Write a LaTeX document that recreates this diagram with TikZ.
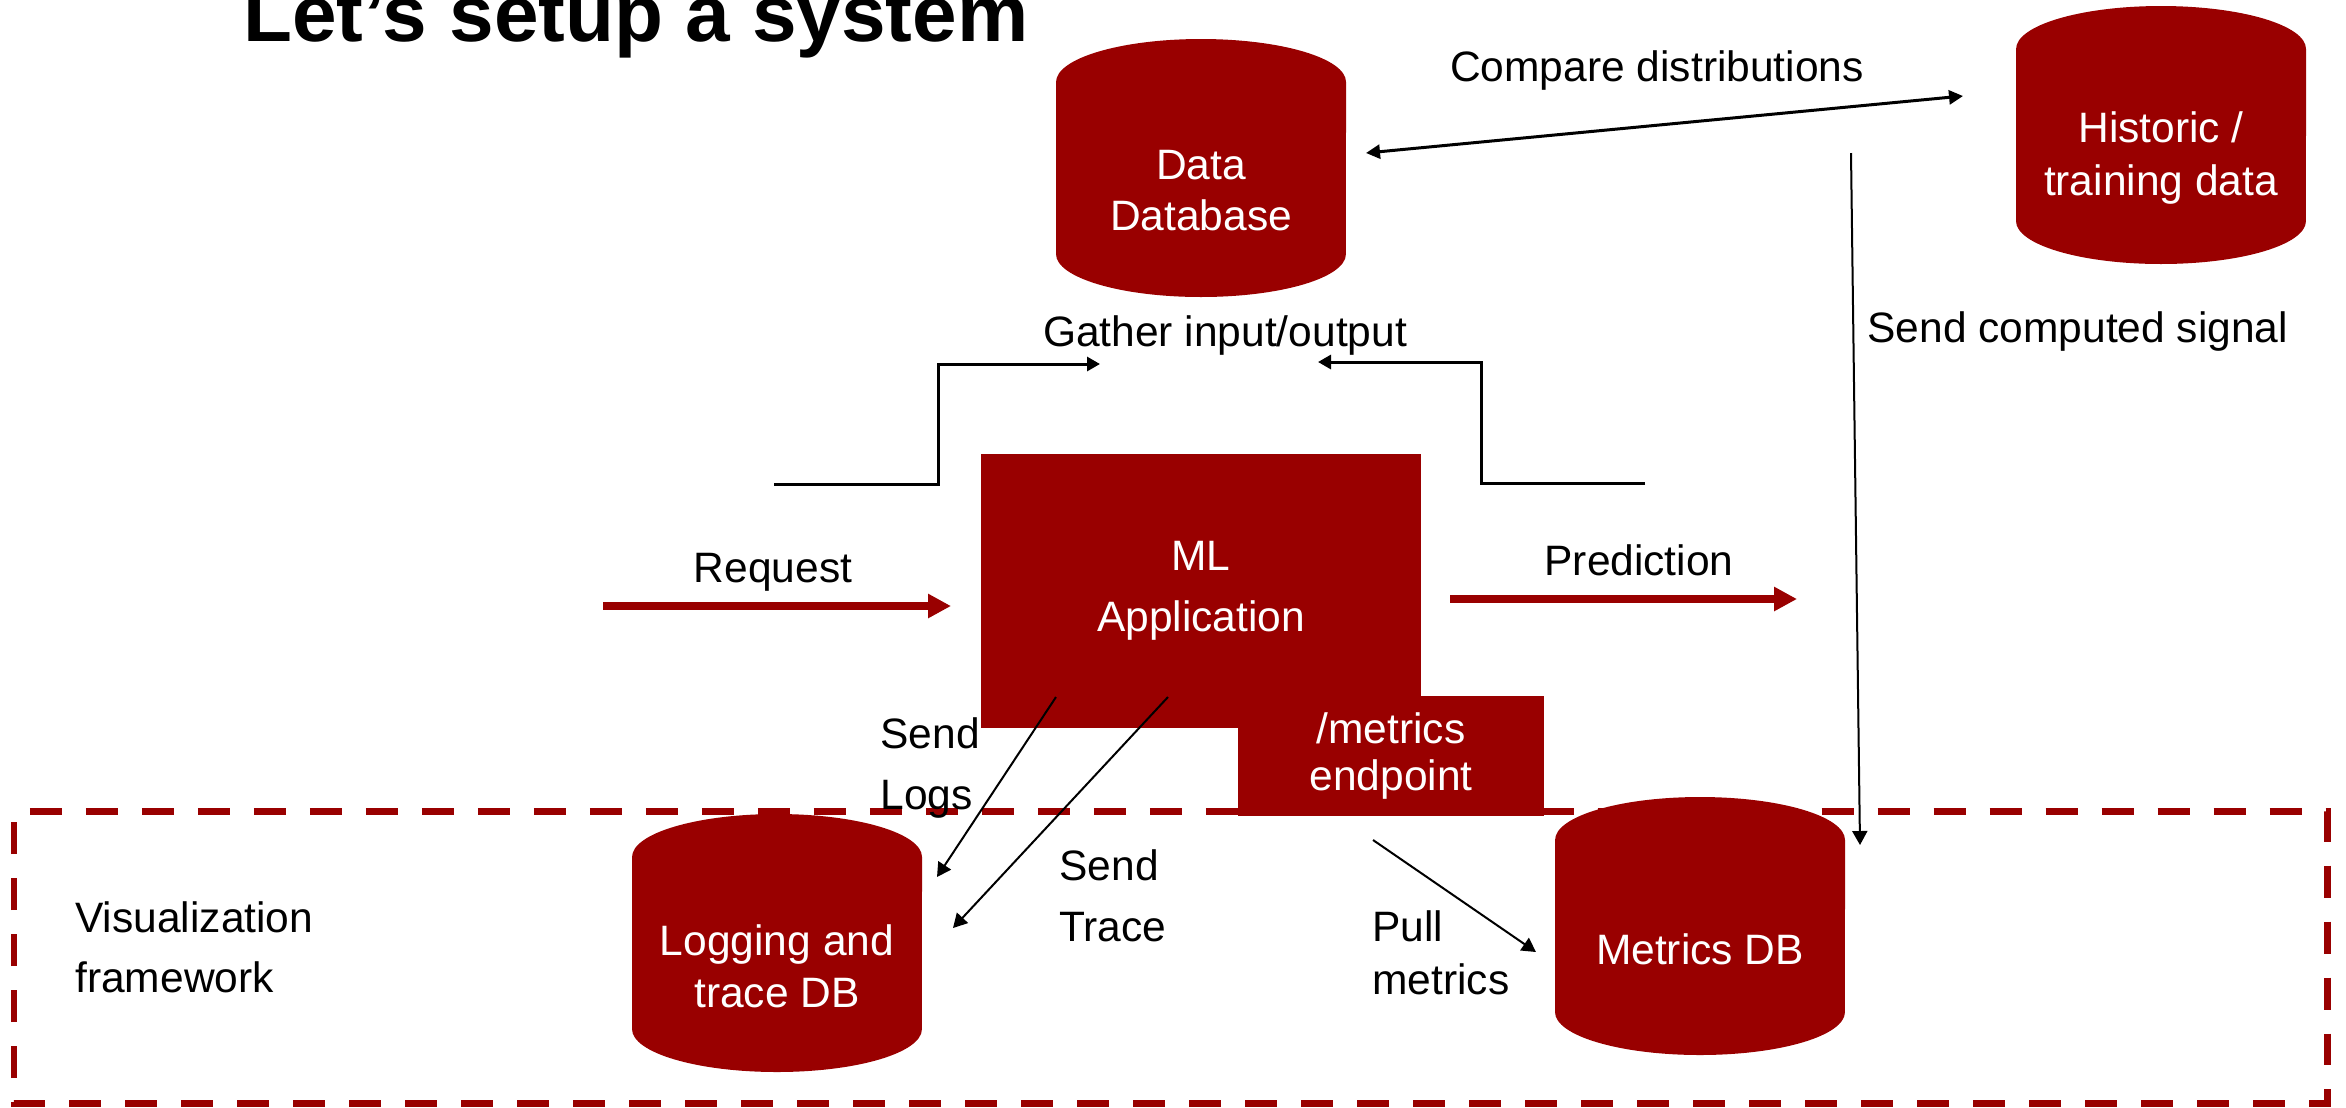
\documentclass[tikz,border=0pt]{standalone}
\usepackage{fontspec}
\setmainfont{Liberation Sans}
\usetikzlibrary{arrows.meta}
\definecolor{dbred}{HTML}{990000}
\tikzset{
  box/.style={fill=dbred,inner sep=0pt},
  txt/.style={font=\fontsize{24.2}{#1}\selectfont,inner sep=0pt,align=left},
  txt/.default=29,
  wtxt/.style={txt=#1,text=white,align=center},
  wtxt/.default=29,
  thin/.style={line width=0.04cm,-{Triangle[length=0.28cm,width=0.3cm]}},
  elbow/.style={line width=0.06cm,-{Triangle[length=0.26cm,width=0.28cm]}},
  flow/.style={dbred,line width=0.16cm,-{Triangle[length=0.46cm,width=0.46cm]}},
  vizframe/.style={dbred,line width=0.14cm,dash pattern=on 0.64cm off 0.48cm,dash phase=0.8cm}
}
% database drum: name, centre x, centre y, text, line skip
\newcommand\dbcyl[5]{%
  \fill[dbred] (#2-145,#3-86) -- (#2-145,#3+86)
    arc[start angle=180,end angle=360,x radius=2.9cm,y radius=0.86cm]
    -- (#2+145,#3-86)
    arc[start angle=0,end angle=180,x radius=2.9cm,y radius=0.86cm] -- cycle;
  \node[wtxt=#5] (#1) at (#2,#3+23) {#4};}
\begin{document}
\begin{tikzpicture}[x=0.02cm,y=-0.02cm]
\useasboundingbox (0,0) rectangle (2346,1107);
% visualization frame
\draw[vizframe] (14,811) -- (2327,811) -- (2327,1103) -- (14,1103) -- cycle;
\node[anchor=base west,inner sep=0pt,font=\bfseries\fontsize{45.6}{54}\selectfont] (title) at (243,41) {Let’s setup a system};

% databases
\dbcyl{datadb}{1201}{168}{Data\\Database}{29}
\dbcyl{histdb}{2161}{135}{Historic /\\training data}{30.6}
\dbcyl{logdb}{777}{943}{Logging and\\trace DB}{29.5}
\dbcyl{metricsdb}{1700}{926}{Metrics DB}{29}

% application
\node[box,minimum width=8.8cm,minimum height=5.48cm,wtxt=35] (mlapp) at (1201,591) {ML\\Application};
\node[box,minimum width=6.12cm,minimum height=2.4cm,wtxt=27] (metricsep) at (1391,756) {/metrics\\endpoint};

% labels
\node[txt] (cmplbl) at (1657,70) {Compare distributions};
\node[txt,anchor=west] (signallbl) at (1867,331) {Send computed signal};
\node[txt] (gatherlbl) at (1225,335) {Gather input/output};
\node[txt] (reqlbl) at (773,572) {Request};
\node[txt] (predlbl) at (1639,560) {Prediction};
\node[txt=35,anchor=west] (logslbl) at (880,768) {Send\\Logs};
\node[txt=35,anchor=west] (tracelbl) at (1059,896) {Send\\Trace};
\node[txt=30,anchor=west] (pulllbl) at (1372,953) {Pull\\metrics};
\node[txt=34,anchor=west] (vizlbl) at (75,947) {Visualization\\framework};

% connectors
\coordinate (cmpl) at (1366,153);
\coordinate (cmpr) at (1963,96);
\coordinate (sigs) at (1851,153);
\coordinate (sige) at (1860,845);
\coordinate (gin) at (774,484);
\coordinate (gine) at (1100,364);
\coordinate (gout) at (1645,483);
\coordinate (goute) at (1318,362);
\coordinate (reqs) at (603,606);
\coordinate (reqe) at (951,606);
\coordinate (preds) at (1450,599);
\coordinate (prede) at (1797,599);
\coordinate (logss) at (1056,697);
\coordinate (logse) at (937,877);
\coordinate (traces) at (1168,697);
\coordinate (tracee) at (953,928);
\coordinate (pulls) at (1373,840);
\coordinate (pulle) at (1536,952);

\draw[line width=0.06cm,{Triangle[length=0.28cm,width=0.28cm]}-{Triangle[length=0.28cm,width=0.28cm]}] (cmpl) -- (cmpr);
\draw[thin] (sigs) -- (sige);
\draw[elbow] (gin) -- ++(164,0) |- (gine);
\draw[elbow] (gout) -- ++(-164,0) |- (goute);
\draw[flow] (reqs) -- (reqe);
\draw[flow] (preds) -- (prede);
\draw[thin] (logss) -- (logse);
\draw[thin] (traces) -- (tracee);
\draw[thin] (pulls) -- (pulle);
\end{tikzpicture}
\end{document}
